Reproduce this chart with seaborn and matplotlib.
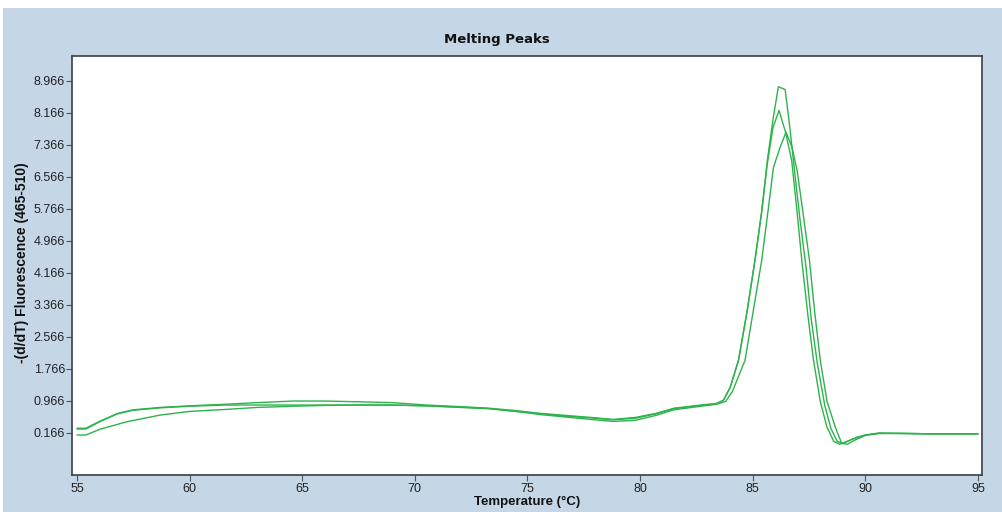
import numpy as np
import pandas as pd
import matplotlib
matplotlib.use("Agg")
import matplotlib.pyplot as plt
from matplotlib.ticker import FixedLocator, FixedFormatter
from matplotlib.patches import Rectangle
import seaborn as sns

# ---- data ----
temp_1 = [55.0, 55.4, 56.0, 56.8, 57.5, 58.7, 60.0, 61.6, 63.0, 64.6, 66.0, 67.6, 69.0, 70.5,
          72.0, 73.3, 74.5, 75.6, 76.7, 77.8, 78.8, 79.8, 80.7, 81.5, 82.7, 83.4, 83.7, 84.0,
          84.37, 84.75, 85.1, 85.4, 85.65, 85.9, 86.14, 86.44, 86.65, 86.88, 87.1, 87.37, 87.6,
          87.87, 88.2, 88.47, 88.75, 89.0, 89.4, 90.0, 90.6, 91.5, 93.0, 95.0]
fluor_1 = [0.28, 0.28, 0.45, 0.65, 0.74, 0.80, 0.84, 0.88, 0.92, 0.96, 0.96, 0.94, 0.92, 0.86,
           0.82, 0.78, 0.72, 0.65, 0.60, 0.55, 0.50, 0.55, 0.65, 0.78, 0.86, 0.90, 0.98, 1.30,
           1.98, 3.20, 4.48, 5.70, 6.98, 8.00, 8.82, 8.75, 7.80, 6.60, 5.50, 4.30, 3.00,
           1.90, 0.85, 0.28, -0.05, -0.10, 0.00, 0.11, 0.16, 0.15, 0.14, 0.14]

temp_2 = [55.0, 55.4, 56.0, 56.8, 57.5, 58.7, 60.0, 61.6, 63.0, 64.6, 66.0, 67.6, 69.0, 70.5,
          72.0, 73.3, 74.5, 75.6, 76.7, 77.8, 78.8, 79.8, 80.7, 81.5, 82.7, 83.4, 83.7, 84.0,
          84.37, 84.75, 85.1, 85.4, 85.65, 85.9, 86.17, 86.45, 86.73, 86.95, 87.18, 87.45,
          87.7, 88.0, 88.29, 88.6, 88.85, 89.2, 89.6, 90.0, 90.6, 91.5, 93.0, 95.0]
fluor_2 = [0.26, 0.26, 0.44, 0.64, 0.73, 0.79, 0.83, 0.86, 0.86, 0.86, 0.86, 0.86, 0.86, 0.84,
           0.80, 0.77, 0.70, 0.64, 0.58, 0.54, 0.49, 0.53, 0.64, 0.77, 0.85, 0.89, 0.98, 1.30,
           1.98, 3.20, 4.48, 5.70, 6.90, 7.80, 8.23, 7.70, 6.98, 5.80, 4.48, 3.10,
           1.98, 0.95, 0.32, -0.05, -0.12, -0.05, 0.05, 0.11, 0.15, 0.15, 0.14, 0.14]

temp_3 = [55.0, 55.4, 56.0, 57.2, 58.7, 60.0, 61.6, 63.0, 64.6, 66.0, 67.6, 69.0, 70.5,
          72.0, 73.3, 74.5, 75.6, 76.7, 77.8, 78.8, 79.8, 80.7, 81.5, 82.7, 83.4, 83.8, 84.1,
          84.66, 85.05, 85.4, 85.7, 85.92, 86.2, 86.48, 86.75, 86.98, 87.25, 87.52, 87.75,
          88.0, 88.3, 88.66, 88.95, 89.2, 89.6, 90.0, 90.6, 91.5, 93.0, 95.0]
fluor_3 = [0.11, 0.11, 0.25, 0.44, 0.61, 0.70, 0.75, 0.80, 0.83, 0.85, 0.86, 0.86, 0.84,
           0.81, 0.77, 0.70, 0.62, 0.56, 0.50, 0.45, 0.48, 0.60, 0.74, 0.83, 0.88, 0.95, 1.20,
           1.98, 3.30, 4.48, 5.80, 6.80, 7.28, 7.69, 7.30, 6.70, 5.60, 4.48, 3.20,
           1.98, 0.95, 0.32, -0.10, -0.12, 0.00, 0.10, 0.15, 0.15, 0.14, 0.14]

y_ticks = [0.166, 0.966, 1.766, 2.566, 3.366, 4.166, 4.966, 5.766, 6.566, 7.366, 8.166, 8.966]
x_ticks = [55, 60, 65, 70, 75, 80, 85, 90, 95]

title = "Melting Peaks"
x_label = "Temperature (°C)"
y_label = "-(d/dT) Fluorescence (465-510)"

# ---- build long-form frame ----
df = pd.concat([
    pd.DataFrame({"Temperature": temp_1, "Fluorescence": fluor_1, "sample": "S1"}),
    pd.DataFrame({"Temperature": temp_2, "Fluorescence": fluor_2, "sample": "S2"}),
    pd.DataFrame({"Temperature": temp_3, "Fluorescence": fluor_3, "sample": "S3"}),
], ignore_index=True)

sns.set_style("white")
plt.rcParams["font.family"] = ["Liberation Sans", "DejaVu Sans"]

BG = "#C5D6E6"
GREEN = "#2DB34C"

fig = plt.figure(figsize=(10.02, 5.12), dpi=100, facecolor="white")
fig.patches.append(Rectangle((3 / 1002, 0), 1, (512 - 8) / 512, transform=fig.transFigure,
                             facecolor=BG, edgecolor="none", zorder=-10))
ax = fig.add_axes([72 / 1002, 37 / 512, 910 / 1002, 419 / 512])
ax.set_facecolor("white")

sns.lineplot(data=df, x="Temperature", y="Fluorescence", hue="sample",
             palette=[GREEN, GREEN, GREEN], linewidth=1.0, legend=False, ax=ax,
             sort=False, estimator=None)

ax.set_xlim(54.78, 95.18)
ax.set_ylim(-0.89, 9.59)

ax.xaxis.set_major_locator(FixedLocator(x_ticks))
ax.set_xticklabels([str(t) for t in x_ticks])
ax.yaxis.set_major_locator(FixedLocator(y_ticks))
ax.yaxis.set_major_formatter(FixedFormatter([f"{t:.3f}" for t in y_ticks]))
minor = [round(0.166 + 0.2 * k, 3) for k in range(-5, 47) if (k % 4) != 0]
ax.yaxis.set_minor_locator(FixedLocator(minor))

ax.tick_params(axis="both", which="major", direction="out", length=4, width=0.8,
               color="#555555", labelsize=9, labelcolor="#222222", pad=1)
ax.tick_params(axis="y", which="minor", direction="out", length=2, width=0.6, color="#777777")
ax.tick_params(axis="x", which="major", pad=2)
ax.tick_params(left=True, bottom=True)

for side, sp in ax.spines.items():
    sp.set_visible(True)
    sp.set_color("#3a3f44")
    sp.set_linewidth(1.2)

ax.set_xlabel("")
ax.set_ylabel("")
fig.text(497 / 1002, 1 - 39 / 512, title, ha="center", va="center",
         fontsize=9.5, fontweight="bold", color="#111111", family=["DejaVu Sans"])
fig.text(527 / 1002, 1 - 502 / 512, x_label, ha="center", va="center",
         fontsize=9.5, fontweight="bold", color="#111111")
fig.text(22 / 1002, 1 - 263 / 512, y_label, ha="center", va="center", rotation=90,
         fontsize=10, fontweight="bold", color="#111111")

fig.savefig("out.png", dpi=100, facecolor=fig.get_facecolor())
